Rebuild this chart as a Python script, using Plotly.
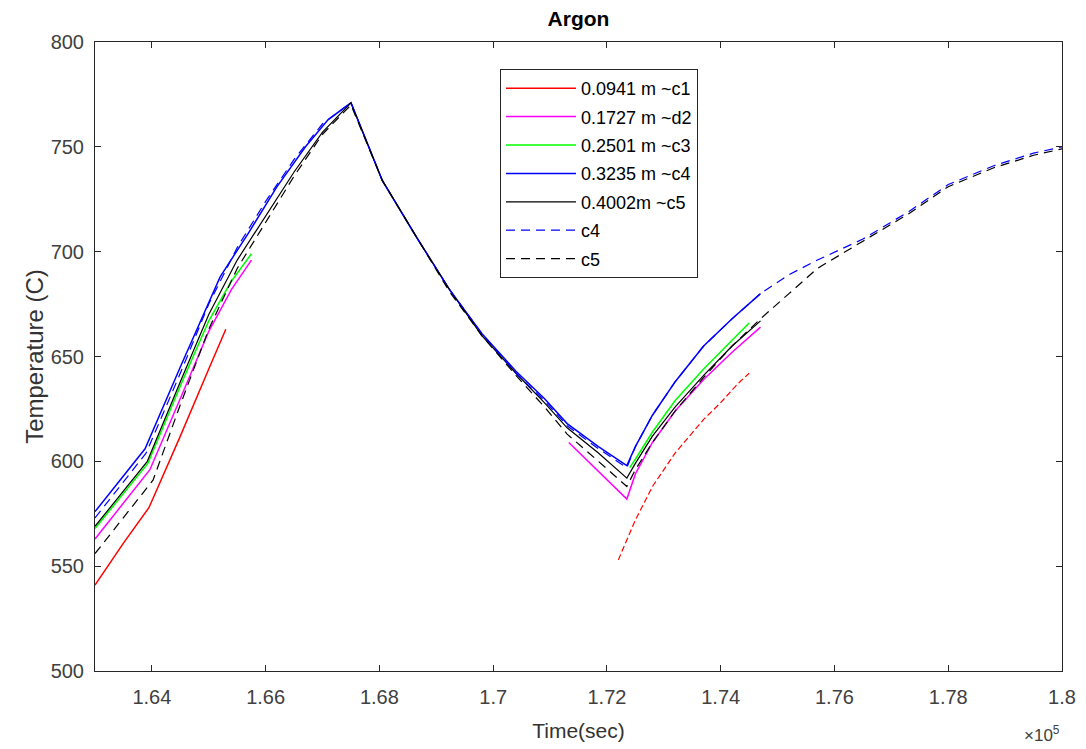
import plotly.graph_objects as go

# ---------------- data (time in s, temperature in C) ----------------
t_c1_heat = [163000, 163500, 163950, 164500, 165000, 165300]
T_c1_heat = [541, 561, 578, 612, 644, 663]
t_c1_rec = [172200, 172500, 172800, 173200, 173700, 174000, 174300, 174500]
T_c1_rec = [553, 572, 588, 604, 620, 628, 637, 642]

t_d2 = [163000, 163965, 164500, 165000, 165400, 165750, None,
        171330, 171850, 172350, 172500, 172800, 173200, 173700, 174200, 174700]
T_d2 = [563, 596, 630, 662, 682, 696, None,
        609, 595, 582, 594, 609, 624, 639, 652, 664]

t_c3 = [163000, 163930, 164500, 165000, 165400, 165750, None,
        172400, 172500, 172800, 173200, 173700, 174200, 174500]
T_c3 = [568, 599, 636, 667, 686, 699, None,
        597, 601, 614, 629, 644, 658, 666]

t_c4 = [163000, 163880, 164500, 165200, 165700, 166200, 166700, 167100, 167500,
        168050, 168650, 169230, 169800, 170400, 170900, 171300, 171850, 172350,
        172500, 172800, 173200, 173700, 174200, 174700]
T_c4 = [576, 606, 645, 688, 709, 731, 750, 763, 771,
        734, 707, 682, 661, 643, 630, 618, 607, 598,
        607, 622, 638, 655, 668, 680]

t_c5 = [163000, 163920, 164500, 165000, 165500, 166000, 166500, 167000, 167500,
        168050, 168650, 169230, 169800, 170400, 170900, 171300, 171850, 172350,
        172500, 172800, 173200, 173700, 174200, 174700]
T_c5 = [569, 600, 638, 670, 696, 717, 738, 757, 771,
        734, 707, 682, 660, 642, 628, 616, 604, 592,
        599, 612, 626, 641, 655, 667]

t_m4 = [163000, 163900, 164500, 165000, 165500, 166000, 166500, 167000, 167500,
        168050, 168650, 169230, 169800, 170400, 170900, 171300, 171850, 172350,
        172500, 172800, 173200, 173700, 174200, 174700, 175200, 175700,
        176500, 177300, 178000, 178800, 179500, 180000]
T_m4 = [573, 604, 642, 675, 702, 724, 744, 761, 771,
        734, 707, 682, 661, 642, 629, 617, 606, 597,
        607, 622, 638, 655, 668, 680, 689, 696,
        706, 719, 732, 741, 747, 750]

t_m5 = [163000, 164020, 164500, 165000, 165500, 166000, 166500, 167000, 167500,
        168050, 168650, 169230, 169800, 170400, 170900, 171300, 171850, 172350,
        172500, 172800, 173200, 173700, 174200, 174700, 175200, 175700,
        176500, 177300, 178000, 178800, 179500, 180000]
T_m5 = [556, 591, 627, 663, 692, 714, 736, 756, 770,
        734, 707, 681, 660, 641, 626, 613, 600, 588,
        596, 609, 624, 640, 655, 668, 680, 692,
        705, 718, 731, 740, 746, 749]

x_tickvals = [164000, 166000, 168000, 170000, 172000, 174000, 176000, 178000, 180000]
x_ticktext = ["1.64", "1.66", "1.68", "1.7", "1.72", "1.74", "1.76", "1.78", "1.8"]
y_tickvals = [500, 550, 600, 650, 700, 750, 800]

names = ["0.0941 m ~c1", "0.1727 m ~d2", "0.2501 m ~c3", "0.3235 m ~c4",
         "0.4002m ~c5", "c4", "c5"]

# ---------------- figure ----------------
# page body has an 8px margin: figure is 1078x741, offset by 8px
FW, FH = 1078, 741
ML, MT, MR, MB = 87, 34, 24, 78
PW = FW - ML - MR
PH = FH - MT - MB

fig = go.Figure()
W = 1.5
fig.add_trace(go.Scatter(x=t_c1_heat, y=T_c1_heat, mode="lines", name=names[0],
                         legendgroup="g1", line=dict(color="#ff0000", width=W)))
fig.add_trace(go.Scatter(x=t_c1_rec, y=T_c1_rec, mode="lines", showlegend=False,
                         legendgroup="g1", line=dict(color="#ff0000", width=1.2, dash="6px,3px")))
fig.add_trace(go.Scatter(x=t_d2, y=T_d2, mode="lines", name=names[1], legendgroup="g2",
                         line=dict(color="#ff00ff", width=W)))
fig.add_trace(go.Scatter(x=t_c3, y=T_c3, mode="lines", name=names[2], legendgroup="g3",
                         line=dict(color="#00ff00", width=W)))
fig.add_trace(go.Scatter(x=t_c4, y=T_c4, mode="lines", name=names[3], legendgroup="g4",
                         line=dict(color="#0000ff", width=W)))
fig.add_trace(go.Scatter(x=t_c5, y=T_c5, mode="lines", name=names[4], legendgroup="g5",
                         line=dict(color="#000000", width=1.2)))
fig.add_trace(go.Scatter(x=t_m4, y=T_m4, mode="lines", name=names[5], legendgroup="g6",
                         line=dict(color="#0000ff", width=1.2, dash="9px,6px")))
fig.add_trace(go.Scatter(x=t_m5, y=T_m5, mode="lines", name=names[6], legendgroup="g7",
                         line=dict(color="#000000", width=1.2, dash="9px,6px")))

axis_common = dict(showline=True, linecolor="#262626", linewidth=1, mirror="ticks",
                   ticks="inside", ticklen=6, tickcolor="#262626", showgrid=False,
                   zeroline=False, tickfont=dict(size=20, color="#404040"))

fig.update_layout(
    width=FW, height=FH,
    margin=dict(l=ML, r=MR, t=MT, b=MB, autoexpand=False),
    paper_bgcolor="white", plot_bgcolor="white",
    font=dict(family="Liberation Sans, Arial, sans-serif", color="#262626"),
    title=dict(text="<b>Argon</b>", x=(ML + PW / 2) / FW, xanchor="center",
               y=1 - 11 / FH, yanchor="middle", font=dict(size=21, color="#000000")),
    xaxis=dict(range=[163000, 180000], tickvals=x_tickvals, ticktext=x_ticktext,
               ticklabelstandoff=8,
               title=dict(text="Time(sec)", font=dict(size=21, color="#333333"), standoff=16),
               **axis_common),
    yaxis=dict(range=[500, 800], tickvals=y_tickvals, ticklabelstandoff=6,
               title=dict(text="Temperature (C)", font=dict(size=24, color="#333333"),
                          standoff=0),
               **axis_common),
    legend=dict(x=(500 - 8 - ML) / PW, y=1 - (69 - 8 - MT) / PH, xanchor="left", yanchor="top",
                bordercolor="#262626", borderwidth=1, bgcolor="white",
                font=dict(size=18, color="#000000"), tracegroupgap=2,
                itemwidth=70),
    showlegend=True,
)

fig.add_annotation(text="\u00d710<sup>5</sup>", xref="paper", yref="paper",
                   x=1.0, y=0, xanchor="right", yanchor="top", yshift=-50,
                   showarrow=False, font=dict(size=17, color="#404040"))

fig.write_html("out.html")
